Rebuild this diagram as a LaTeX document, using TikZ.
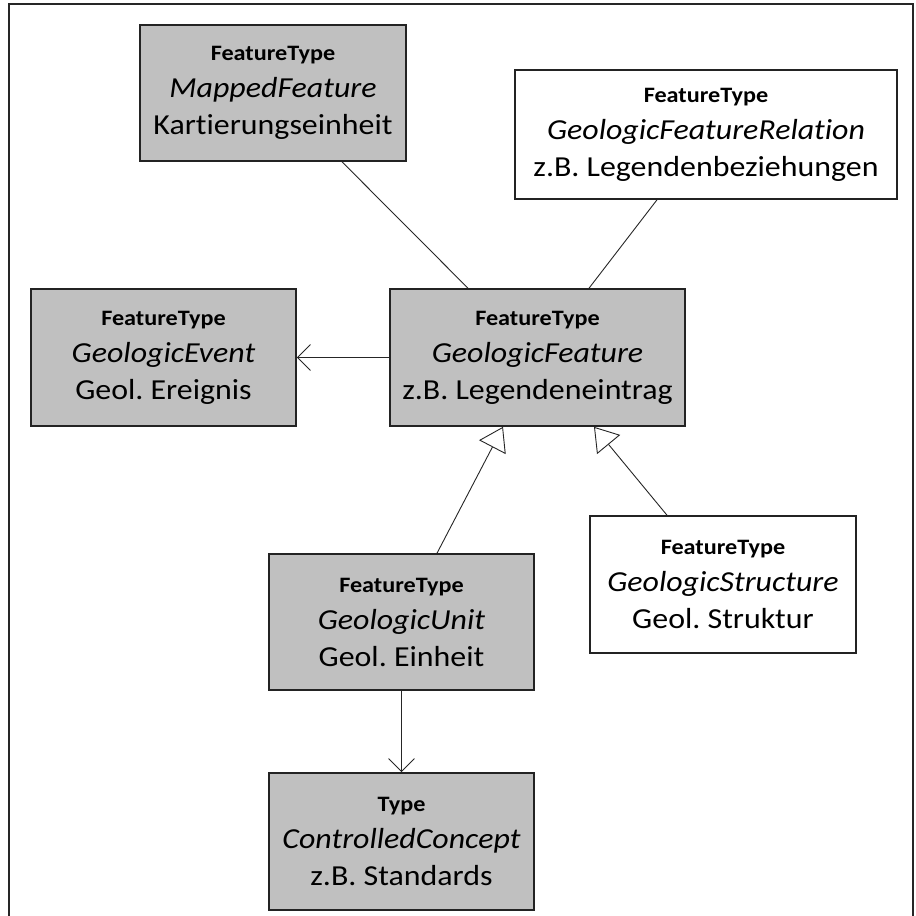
\documentclass[tikz,border=0pt]{standalone}
\usepackage{fontspec}
\setmainfont{Carlito}[Ligatures=NoCommon, FakeStretch=1.1]
\usetikzlibrary{arrows.meta}
\definecolor{boxgray}{RGB}{192,192,192}
\definecolor{edgedark}{RGB}{35,35,35}
\tikzset{
  cls/.style={draw=edgedark, line width=1.6pt, minimum width=#1, inner sep=0pt, align=center,
    font=\fontsize{29}{37}\selectfont\frenchspacing},
  grayfill/.style={fill=boxgray},
  whitefill/.style={fill=white},
  conn/.style={draw=black!85, line width=0.9pt},
  nav/.style={conn, -{Straight Barb[length=13pt,width=26pt]}},
  gen/.style={conn, -{Triangle[open,length=23pt,width=30pt,fill=white]}},
}
\newcommand{\stereo}[1]{{\fontsize{22}{37}\selectfont\bfseries #1}}
\begin{document}
\begin{tikzpicture}[x=1pt,y=-1pt]
\useasboundingbox (0,0) rectangle (916,916);
\draw[line width=1.3pt, black!85] (9,916) -- (9,4) -- (913,4) -- (913,916);

\node[cls=266pt, minimum height=136pt, grayfill] (mf) at (273,93)
  {\stereo{FeatureType}\\ \textit{MappedFeature}\\ Kartierungseinheit};
\node[cls=382pt, minimum height=129pt, whitefill] (gfr) at (706,134.5)
  {\stereo{FeatureType}\\ \textit{GeologicFeatureRelation}\\ z.B. Legendenbeziehungen};
\node[cls=265pt, minimum height=137pt, grayfill] (ge) at (163.5,357.5)
  {\stereo{FeatureType}\\ \textit{GeologicEvent}\\ Geol. Ereignis};
\node[cls=295pt, minimum height=137pt, grayfill] (gf) at (537.5,357.5)
  {\stereo{FeatureType}\\ \textit{GeologicFeature}\\ z.B. Legendeneintrag};
\node[cls=266pt, minimum height=137pt, whitefill] (gs) at (723,584.5)
  {\stereo{FeatureType}\\ \textit{GeologicStructure}\\ Geol. Struktur};
\node[cls=265pt, minimum height=136pt, grayfill] (gu) at (401.5,622)
  {\stereo{FeatureType}\\ \textit{GeologicUnit}\\ Geol. Einheit};
\node[cls=265pt, minimum height=137pt, grayfill] (cc) at (401.5,841.5)
  {\stereo{Type}\\ \textit{ControlledConcept}\\ z.B. Standards};

\draw[conn] ([xshift=69pt]mf.south) -- ([xshift=-69.5pt]gf.north);
\draw[conn] ([xshift=-49pt]gfr.south) -- ([xshift=51.5pt]gf.north);
\draw[nav] (gf.west) -- (ge.east);
\draw[nav] (gu.south) -- (cc.north);
\draw[gen] ([xshift=35.5pt]gu.north) -- ([xshift=-34.5pt]gf.south);
\draw[gen] ([xshift=-56pt]gs.north) -- ([xshift=56.5pt]gf.south);
\end{tikzpicture}
\end{document}
